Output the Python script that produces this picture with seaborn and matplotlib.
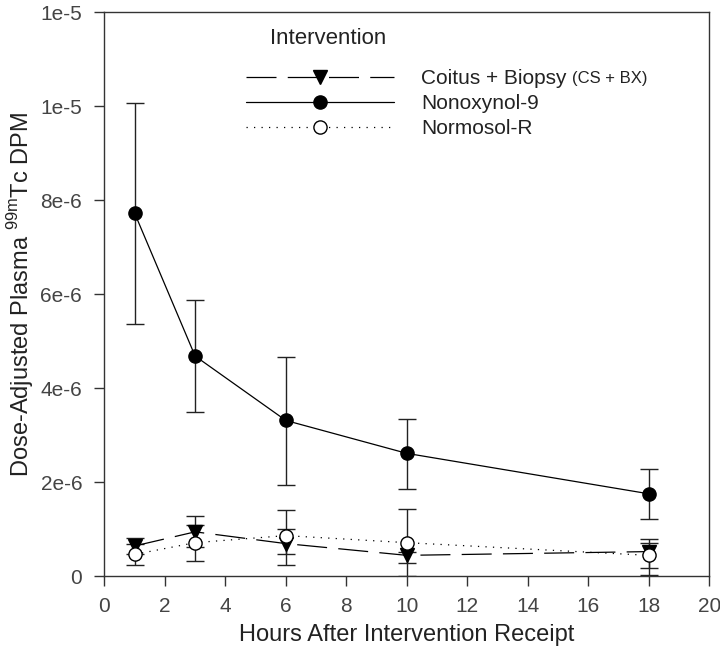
import matplotlib
matplotlib.use("Agg")
import matplotlib.pyplot as plt
import matplotlib.ticker as mticker
from matplotlib.transforms import IdentityTransform
import seaborn as sns
import numpy as np


# ---------- DATA ----------

hours = [1, 3, 6, 10, 18]

cs_bx_mean = [0.64e-6, 0.94e-6, 0.69e-6, 0.44e-6, 0.52e-6]
cs_bx_low = [0.46e-6, 0.62e-6, 0.46e-6, 0.28e-6, 0.02e-6]
cs_bx_high = [0.80e-6, 1.27e-6, 1.01e-6, 0.51e-6, 0.78e-6]

n9_mean = [7.72e-6, 4.68e-6, 3.31e-6, 2.61e-6, 1.75e-6]
n9_low = [5.37e-6, 3.49e-6, 1.94e-6, 1.86e-6, 1.21e-6]
n9_high = [10.07e-6, 5.87e-6, 4.65e-6, 3.34e-6, 2.28e-6]

normosol_mean = [0.46e-6, 0.71e-6, 0.86e-6, 0.71e-6, 0.44e-6]
normosol_low = [0.24e-6, 0.32e-6, 0.23e-6, 0.0, 0.17e-6]
normosol_high = [0.69e-6, 1.09e-6, 1.41e-6, 1.43e-6, 0.71e-6]

y_ticks = [0, 2e-6, 4e-6, 6e-6, 8e-6, 1e-5, 1.2e-5]
y_tick_labels = ["0", "2e-6", "4e-6", "6e-6", "8e-6", "1e-5", "1e-5"]
x_ticks = [0, 2, 4, 6, 8, 10, 12, 14, 16, 18, 20]


# ---------- STYLE ----------

sns.set_style("ticks")
plt.rcParams["font.family"] = ["Liberation Sans", "DejaVu Sans"]
plt.rcParams["mathtext.fontset"] = "custom"
plt.rcParams["mathtext.rm"] = "Liberation Sans"

text_color = "#222222"

fig = plt.figure(figsize=(7.2, 6.5), dpi=100)
ax = fig.add_axes([0.145, 0.1138, 0.84, 0.8677])

series = [
    ("Coitus + Biopsy", cs_bx_mean, cs_bx_low, cs_bx_high,
     "v", "black", (0, (24, 9))),
    ("Nonoxynol-9", n9_mean, n9_low, n9_high,
     "o", "black", "-"),
    ("Normosol-R", normosol_mean, normosol_low, normosol_high,
     "o", "white", (0, (1, 5))),
]

handles = []
labels = []
for name, mean, low, high, marker, face, ls in series:
    mean = np.array(mean)
    yerr = [mean - np.array(low), np.array(high) - mean]
    ax.errorbar(hours, mean, yerr=yerr, fmt="none", ecolor="#222222",
                elinewidth=1, capsize=6.5, capthick=1, zorder=1)
    sns.lineplot(x=hours, y=mean, ax=ax, color="black", linewidth=0.9,
                 linestyle=ls, marker=marker, markersize=9.5,
                 markerfacecolor=face, markeredgecolor="black",
                 markeredgewidth=1, zorder=3, legend=False)
    handles.append(ax.lines[-1])
    labels.append(name)

# ---------- AXES ----------

ax.set_xlim(0, 20)
ax.set_ylim(0, 1.2e-5)
ax.xaxis.set_major_locator(mticker.FixedLocator(x_ticks))
ax.yaxis.set_major_locator(mticker.FixedLocator(y_ticks))
ax.yaxis.set_major_formatter(mticker.FixedFormatter(y_tick_labels))
ax.tick_params(axis="both", direction="out", length=7, width=1,
               color="#333333", labelsize=15, labelcolor="#444444")
ax.tick_params(axis="y", pad=9)
ax.tick_params(axis="x", pad=8)
for side in ["top", "right", "left", "bottom"]:
    ax.spines[side].set_visible(True)
    ax.spines[side].set_color("#333333")
    ax.spines[side].set_linewidth(1)

ax.set_xlabel("Hours After Intervention Receipt", fontsize=17,
              color=text_color, labelpad=6)
ax.set_ylabel(r"Dose-Adjusted Plasma $^{\mathregular{99m}}$Tc DPM",
              fontsize=17, color=text_color, labelpad=3)

# ---------- LEGEND ----------

fig.text(270 / 720, 1 - 38 / 650, "Intervention", fontsize=16,
         color=text_color, ha="left", va="center")

leg = ax.legend(handles, labels, loc="upper left",
                bbox_to_anchor=(246 / 720, 1 - 69 / 650),
                bbox_transform=fig.transFigure, frameon=False,
                fontsize=15, handlelength=7.1, handletextpad=1.3,
                labelspacing=0.3, borderpad=0, borderaxespad=0)
for t in leg.get_texts():
    t.set_color(text_color)

fig.canvas.draw()
bb = leg.get_texts()[0].get_window_extent()
fig.text(bb.x1 + 5, bb.y0 + 2, "(CS + BX)", fontsize=12, color=text_color,
         ha="left", va="bottom", transform=IdentityTransform())

fig.savefig("out.png", dpi=100)
